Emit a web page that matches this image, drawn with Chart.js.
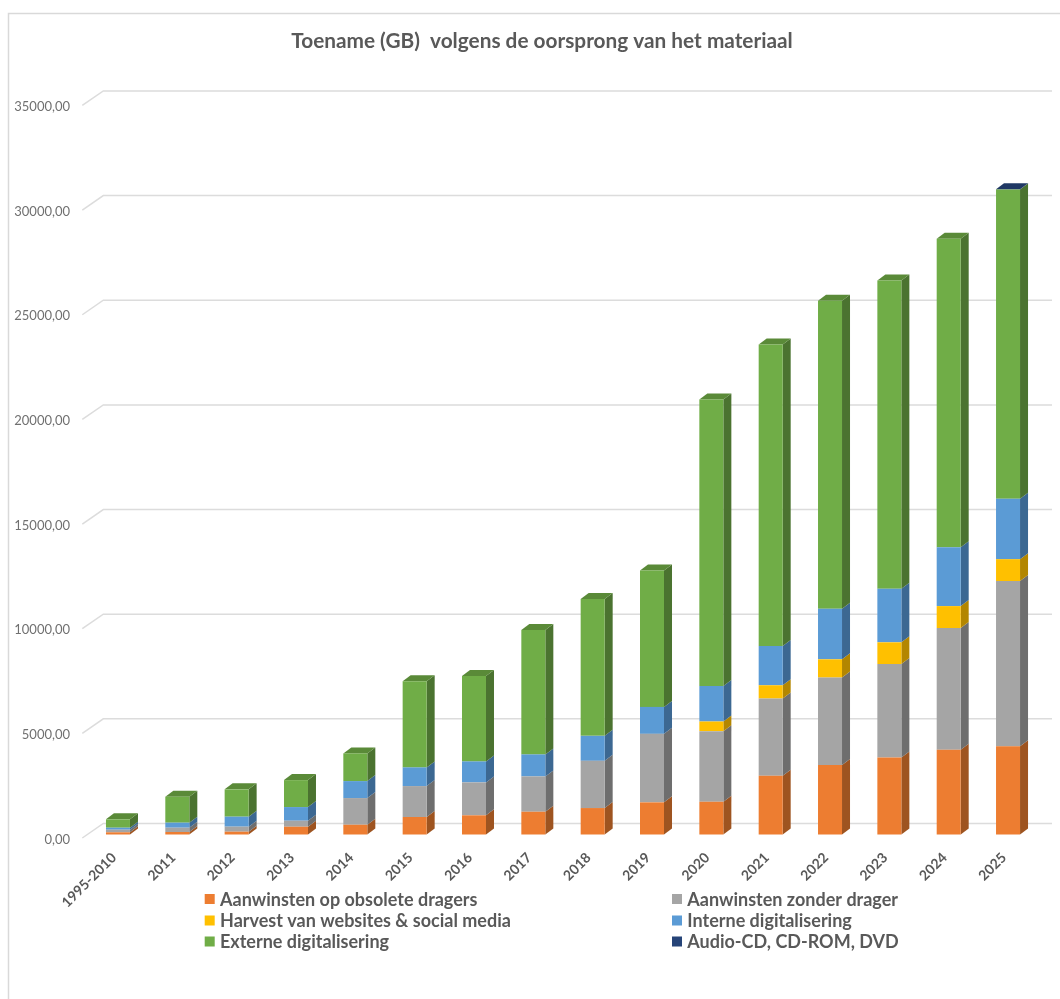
<!DOCTYPE html>
<html>
<head>
<meta charset="utf-8">
<style>
html,body{margin:0;padding:0;background:#fff;}
#wrap{width:1060px;height:999px;position:relative;}
</style>
<script src="https://cdn.jsdelivr.net/npm/chart.js@4"></script>
</head>
<body>
<div id="wrap"><canvas id="c" width="1060" height="999"></canvas></div>
<script>
const categories = ['1995-2010','2011','2012','2013','2014','2015','2016','2017','2018','2019','2020','2021','2022','2023','2024','2025'];
const chartTitle = 'Toename (GB)  volgens de oorsprong van het materiaal';

const obsolete = [105,120,135,372,467,835,916,1088,1264,1536,1565,2805,3315,3682,4045,4221];
const zonderDrager = [125,205,240,286,1274,1479,1574,1689,2256,3272,3372,3692,4183,4465,5819,7885];
const harvest = [0,0,0,0,0,0,0,0,0,0,463,634,873,1035,1049,1049];
const interne = [95,240,477,653,811,892,1002,1049,1193,1288,1698,1875,2418,2561,2814,2881];
const externe = [400,1240,1305,1288,1321,4117,4083,5950,6535,6521,13680,14400,14715,14730,14735,14780];
const audioCd = [0,0,0,0,0,0,0,0,0,0,0,0,0,0,0,15];

const frontColors = ['#ED7D31','#A5A5A5','#FFC000','#5B9BD5','#70AD47','#264478'];
const sideColors  = ['#9E5420','#6E6E6E','#B38600','#3C6892','#4B7330','#1A2F55'];
const topColors   = ['#B9611F','#858585','#CC9A00','#4A7CAB','#5A8A38','#1F3864'];
const seriesNames = ['Aanwinsten op obsolete dragers','Aanwinsten zonder drager','Harvest van websites & social media','Interne digitalisering','Externe digitalisering','Audio-CD, CD-ROM, DVD'];
const seriesValues = [obsolete, zonderDrager, harvest, interne, externe, audioCd];

const DX = 8, DY = 6, SHIFT = 5;

const wall3d = {
  id: 'wall3d',
  afterLayout(chart) {
    chart.scales.y.left = 0;
  },
  beforeDraw(chart) {
    const ctx = chart.ctx;
    ctx.save();
    ctx.fillStyle = '#fff';
    ctx.fillRect(0, 0, chart.width, chart.height);
    ctx.strokeStyle = '#d9d9d9';
    ctx.lineWidth = 1.5;
    ctx.beginPath();
    ctx.moveTo(8.5, chart.height);
    ctx.lineTo(8.5, 13.5);
    ctx.lineTo(chart.width, 13.5);
    ctx.stroke();
    ctx.restore();
  },
  beforeDatasetsDraw(chart) {
    const ctx = chart.ctx;
    const ys = chart.scales.y;
    const area = chart.chartArea;
    ctx.save();
    ctx.strokeStyle = '#dcdcdc';
    ctx.lineWidth = 1.5;
    ys.ticks.forEach(t => {
      const y = ys.getPixelForValue(t.value);
      ctx.beginPath();
      ctx.moveTo(area.left - 6, y - 1.5);
      ctx.lineTo(area.left + 15, y - 16);
      ctx.lineTo(area.right + 14.3, y - 16);
      ctx.stroke();
    });
    ctx.restore();

    ctx.save();
    ctx.translate(0, -SHIFT);
    chart.data.datasets.forEach((ds, di) => {
      const meta = chart.getDatasetMeta(di);
      meta.data.forEach((el, i) => {
        if (!ds.data[i]) return;
        const r = el.x + el.width / 2;
        ctx.fillStyle = sideColors[di];
        ctx.beginPath();
        ctx.moveTo(r, el.y);
        ctx.lineTo(r + DX, el.y - DY);
        ctx.lineTo(r + DX, el.base - DY);
        ctx.lineTo(r, el.base);
        ctx.closePath();
        ctx.fill();
      });
    });
    categories.forEach((_, i) => {
      let di = seriesValues.length - 1;
      while (di > 0 && !seriesValues[di][i]) di--;
      const el = chart.getDatasetMeta(di).data[i];
      const l = el.x - el.width / 2, r = el.x + el.width / 2;
      ctx.fillStyle = topColors[di];
      ctx.beginPath();
      ctx.moveTo(l, el.y);
      ctx.lineTo(l + DX, el.y - DY);
      ctx.lineTo(r + DX, el.y - DY);
      ctx.lineTo(r, el.y);
      ctx.closePath();
      ctx.fill();
    });
  },
  afterDatasetsDraw(chart) {
    chart.ctx.restore();
  },
  afterDraw(chart) {
    const ctx = chart.ctx;
    const cols = [204.7, 672];
    const rows = [899, 920.5, 941.5];
    ctx.save();
    ctx.textBaseline = 'middle';
    ctx.textAlign = 'left';
    ctx.font = '700 18px Lato';
    chart.data.datasets.forEach((ds, i) => {
      const x = cols[i % 2], y = rows[Math.floor(i / 2)];
      ctx.fillStyle = ds.backgroundColor;
      ctx.fillRect(x, y - 5, 10, 10);
      ctx.fillStyle = '#595959';
      ctx.fillText(ds.label, x + 15.3, y + 1);
    });
    ctx.restore();
  }
};

new Chart(document.getElementById('c'), {
  type: 'bar',
  data: {
    labels: categories,
    datasets: seriesValues.map((vals, i) => ({
      label: seriesNames[i],
      data: vals,
      backgroundColor: frontColors[i],
      borderWidth: 0,
      clip: false,
      barPercentage: 1,
      categoryPercentage: 0.4045
    }))
  },
  options: {
    responsive: false,
    animation: false,
    devicePixelRatio: 1,
    layout: { padding: { left: 46.3, right: 22.3, top: 0, bottom: 0 } },
    plugins: {
      legend: { display: false },
      tooltip: { enabled: false },
      title: {
        display: true,
        text: chartTitle,
        color: '#595959',
        font: { family: 'Lato', size: 20.8, weight: '700' },
        padding: { top: 29, bottom: 53 }
      }
    },
    scales: {
      x: {
        stacked: true,
        grid: { display: false, drawTicks: false },
        border: { display: false },
        afterFit(s) { s.height = 999 - 839.5; },
        ticks: {
          autoSkip: false,
          minRotation: 45,
          maxRotation: 45,
          padding: 10,
          labelOffset: -4,
          color: '#595959',
          font: { family: 'Lato', size: 14, weight: '700' }
        }
      },
      y: {
        stacked: true,
        min: 0,
        max: 35000,
        grid: { display: false, drawTicks: false },
        border: { display: false },
        afterFit(s) { s.width = 42; },
        ticks: {
          stepSize: 5000,
          padding: 18.3,
          color: '#707070',
          font: { family: 'Lato', size: 13 },
          callback: v => v.toFixed(2).replace('.', ',')
        }
      }
    }
  },
  plugins: [wall3d]
});
</script>
</body>
</html>
